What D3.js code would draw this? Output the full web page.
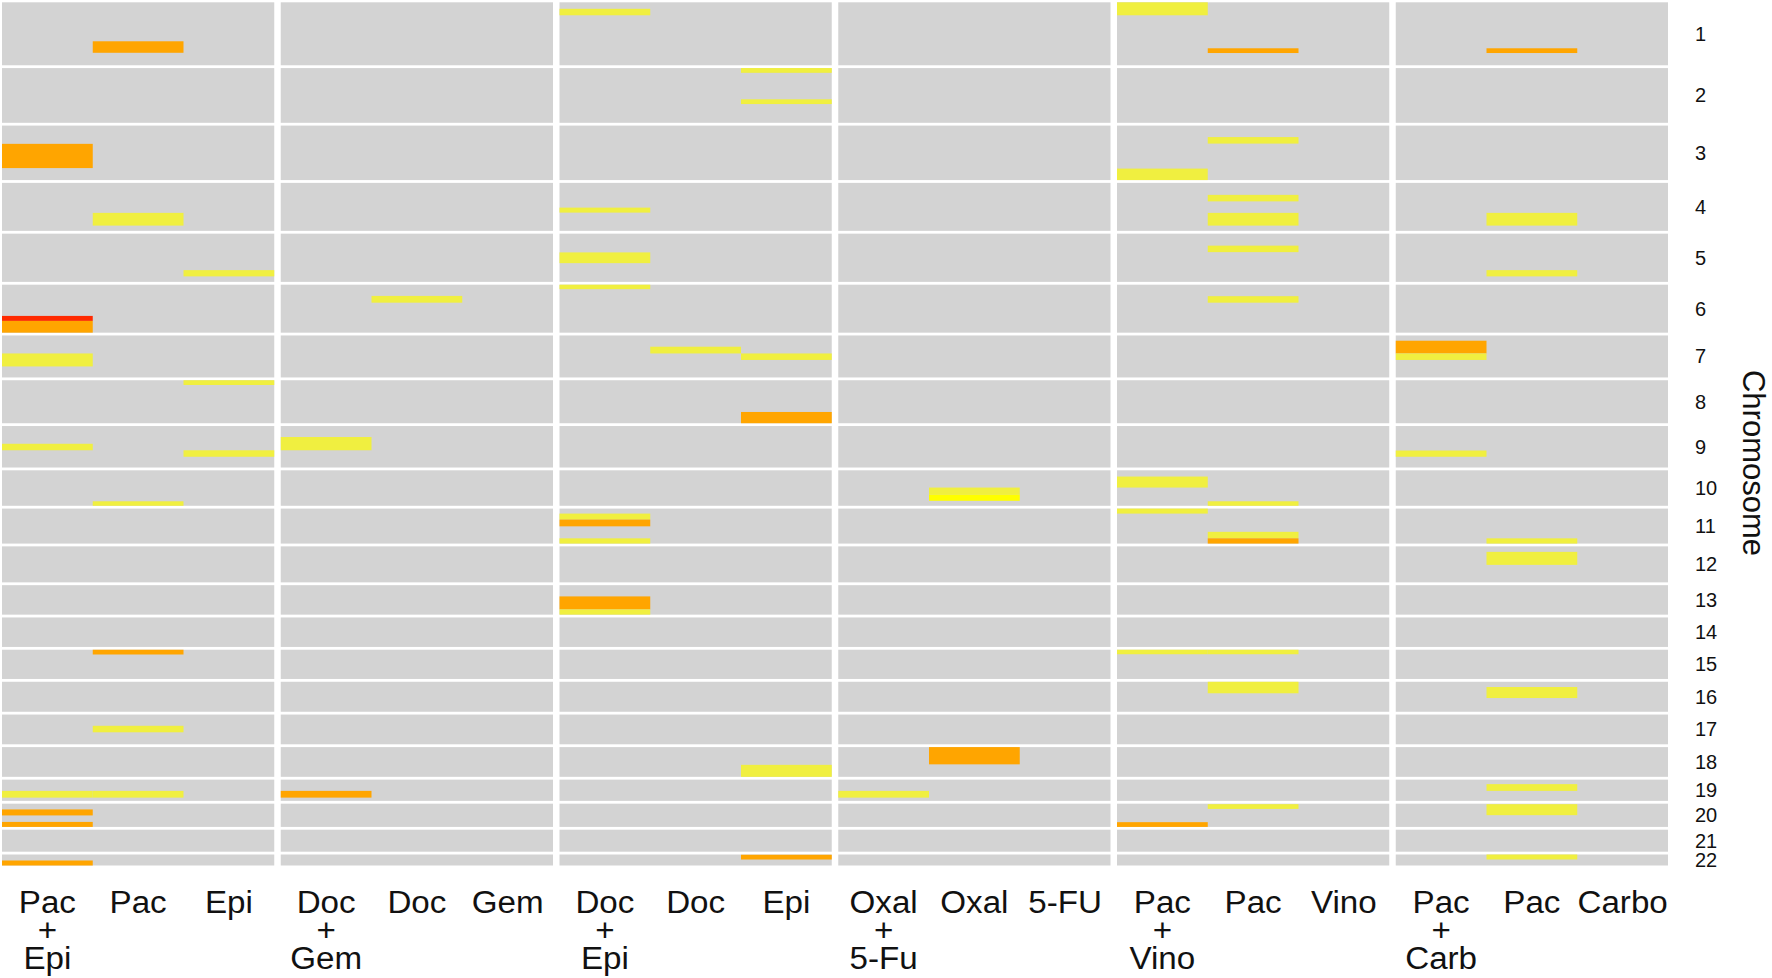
<!DOCTYPE html>
<html>
<head>
<meta charset="utf-8">
<script src="https://cdn.jsdelivr.net/npm/d3@7"></script>
<style>
  html, body { margin: 0; padding: 0; background: #fff; }
  #svg-container { width: 1772px; height: 978px; }
  svg { display: block; font-family: "Liberation Sans", Arial, sans-serif; }
</style>
</head>
<body>
<div id="svg-container"></div>
<script>
// chromosome rows, span = visible range of each row in Mb
const chromosomes = ['1', '2', '3', '4', '5', '6', '7', '8', '9', '10', '11',
    '12', '13', '14', '15', '16', '17', '18', '19', '20', '21', '22']
const chromSpan = [252, 219, 218, 192, 193, 192, 168, 172, 166, 142, 140,
    144, 118, 118, 117, 120, 119, 119, 85, 93, 88, 44]

// drug groups, three columns each
const groups = ['pacEpi', 'docGem', 'docEpi', 'oxalFu', 'pacVino', 'pacCarb']
const drugLabels = [
    ['Pac\n+\nEpi', 'Pac', 'Epi'],
    ['Doc\n+\nGem', 'Doc', 'Gem'],
    ['Doc\n+\nEpi', 'Doc', 'Epi'],
    ['Oxal\n+\n5-Fu', 'Oxal', '5-FU'],
    ['Pac\n+\nVino', 'Pac', 'Vino'],
    ['Pac\n+\nCarb', 'Pac', 'Carbo']
]

// levels of the marked regions
const levels = ['low', 'bright', 'mid', 'high']

// segments per group: [chromosome, column, start Mb, end Mb, level]
const pacEpiSegs = [
    ['1', 1, 156, 202, 'mid'],
    ['3', 0, 73, 170, 'mid'],
    ['4', 1, 120, 171, 'low'],
    ['5', 2, 146, 171, 'low'],
    ['6', 0, 125, 145, 'high'],
    ['6', 0, 145, 192, 'mid'],
    ['7', 0, 72, 124, 'low'],
    ['8', 2, 0, 19, 'low'],
    ['9', 0, 71, 97, 'low'],
    ['9', 2, 97, 123, 'low'],
    ['10', 1, 124, 142, 'low'],
    ['15', 1, 0, 19, 'mid'],
    ['17', 1, 45, 71, 'low'],
    ['19', 0, 45, 72, 'low'],
    ['19', 1, 45, 72, 'low'],
    ['20', 0, 23, 47, 'mid'],
    ['20', 0, 73, 93, 'mid'],
    ['22', 0, 24, 44, 'mid']
]
const docGemSegs = [
    ['6', 1, 45, 72, 'low'],
    ['9', 0, 44, 97, 'low'],
    ['19', 0, 45, 72, 'mid']
]
const docEpiSegs = [
    ['1', 0, 26, 52, 'low'],
    ['2', 2, 0, 19, 'low'],
    ['2', 2, 125, 144, 'low'],
    ['4', 0, 99, 119, 'low'],
    ['5', 0, 75, 118, 'low'],
    ['6', 0, 0, 18, 'low'],
    ['7', 1, 45, 72, 'low'],
    ['7', 2, 72, 98, 'low'],
    ['8', 2, 127, 172, 'mid'],
    ['11', 0, 20, 44, 'low'],
    ['11', 0, 44, 71, 'mid'],
    ['11', 0, 119, 140, 'low'],
    ['13', 0, 45, 97, 'mid'],
    ['13', 0, 97, 118, 'low'],
    ['18', 2, 71, 119, 'low'],
    ['22', 2, 1, 20, 'mid']
]
const oxalFuSegs = [
    ['10', 1, 69, 97, 'low'],
    ['10', 1, 97, 122, 'bright'],
    ['18', 1, 0, 69, 'mid'],
    ['19', 0, 45, 72, 'low']
]
const pacVinoSegs = [
    ['1', 0, 0, 52, 'low'],
    ['1', 1, 184, 203, 'mid'],
    ['3', 1, 46, 72, 'low'],
    ['3', 0, 172, 218, 'low'],
    ['4', 1, 48, 74, 'low'],
    ['4', 1, 120, 171, 'low'],
    ['5', 1, 48, 74, 'low'],
    ['6', 1, 46, 72, 'low'],
    ['10', 0, 25, 69, 'low'],
    ['10', 1, 124, 142, 'low'],
    ['11', 0, 0, 20, 'low'],
    ['11', 1, 93, 119, 'low'],
    ['11', 1, 119, 140, 'mid'],
    ['15', 0, 0, 18, 'low'],
    ['15', 1, 0, 18, 'low'],
    ['16', 1, 0, 46, 'low'],
    ['20', 1, 2, 21, 'low'],
    ['20', 0, 74, 93, 'mid']
]
const pacCarbSegs = [
    ['1', 1, 184, 203, 'mid'],
    ['4', 1, 120, 171, 'low'],
    ['5', 1, 146, 171, 'low'],
    ['7', 0, 21, 72, 'mid'],
    ['7', 0, 72, 98, 'low'],
    ['9', 0, 98, 123, 'low'],
    ['11', 1, 119, 140, 'low'],
    ['12', 1, 22, 74, 'low'],
    ['16', 1, 21, 65, 'low'],
    ['19', 1, 18, 45, 'low'],
    ['20', 1, 2, 46, 'low'],
    ['22', 1, 0, 20, 'low']
]
const segsByGroup = [pacEpiSegs, docGemSegs, docEpiSegs, oxalFuSegs, pacVinoSegs, pacCarbSegs]

//grootte
const width = 1772
const height = 978
const plot = { left: 2, right: 1668, top: 2.3, bottom: 865.5 }
const rowGap = 2.8
const panelGap = 6.5
const labelSize = 31
const lineStep = 27.9

const svg = d3.select('#svg-container')
    .append('svg').attr('width', width).attr('height', height)

// colors for the levels
const color = d3.scaleOrdinal()
    .domain(levels)
    .range(['#f0ef40', '#ffff00', '#ffa500', '#ff2a00'])

// x: panels, then columns inside a panel
const xGroup = d3.scaleBand()
    .domain(groups)
    .range([plot.left, plot.right])
    .paddingInner(panelGap / ((plot.right - plot.left + panelGap) / groups.length))
    .paddingOuter(0)
const xCol = d3.scaleBand()
    .domain([0, 1, 2])
    .range([0, xGroup.bandwidth()])

// y: one linear scale per chromosome row, height follows the span
const available = (plot.bottom - plot.top) - rowGap * (chromosomes.length - 1)
const unit = d3.scaleLinear().domain([0, d3.sum(chromSpan)]).range([0, available])
const rowScale = {}
let acc = 0
chromosomes.forEach((c, i) => {
    const top = plot.top + unit(acc) + i * rowGap
    rowScale[c] = d3.scaleLinear().domain([0, chromSpan[i]]).range([top, top + unit(chromSpan[i])])
    acc += chromSpan[i]
})

// panels
groups.forEach((g, gi) => {
    const pg = svg.append('g').attr('transform', `translate(${xGroup(g)},0)`)

    // grey background per row
    pg.selectAll('rect.bg')
        .data(chromosomes)
        .enter().append('rect')
        .attr('class', 'bg')
        .attr('x', 0)
        .attr('width', xGroup.bandwidth())
        .attr('y', c => rowScale[c].range()[0])
        .attr('height', c => rowScale[c].range()[1] - rowScale[c].range()[0])
        .attr('fill', '#d3d3d3')

    // marked regions
    pg.selectAll('rect.seg')
        .data(segsByGroup[gi])
        .enter().append('rect')
        .attr('class', 'seg')
        .attr('x', d => xCol(d[1]))
        .attr('width', xCol.bandwidth())
        .attr('y', d => rowScale[d[0]](d[2]))
        .attr('height', d => rowScale[d[0]](d[3]) - rowScale[d[0]](d[2]))
        .attr('fill', d => color(d[4]))

    // column labels below, one text per line (reference font is a bit wider)
    drugLabels[gi].forEach((lab, ci) => {
        const cx = xCol(ci) + xCol.bandwidth() / 2
        lab.split('\n').forEach((line, li) => {
            pg.append('text')
                .attr('transform', `translate(${cx},${913 + li * lineStep}) scale(1.07,1)`)
                .attr('text-anchor', 'middle')
                .attr('font-size', labelSize)
                .attr('fill', '#111')
                .text(line)
        })
    })
})

// chromosome labels on the right
svg.selectAll('text.chr')
    .data(chromosomes)
    .enter().append('text')
    .attr('class', 'chr')
    .attr('x', 1695)
    .attr('y', c => (rowScale[c].range()[0] + rowScale[c].range()[1]) / 2)
    .attr('dominant-baseline', 'central')
    .attr('font-size', 20)
    .attr('fill', '#111')
    .text(c => c)

// title van de as
svg.append('text')
    .attr('transform', 'translate(1743,463) rotate(90)')
    .attr('text-anchor', 'middle')
    .attr('font-size', 31)
    .attr('fill', '#111')
    .text('Chromosome')
</script>
</body>
</html>
